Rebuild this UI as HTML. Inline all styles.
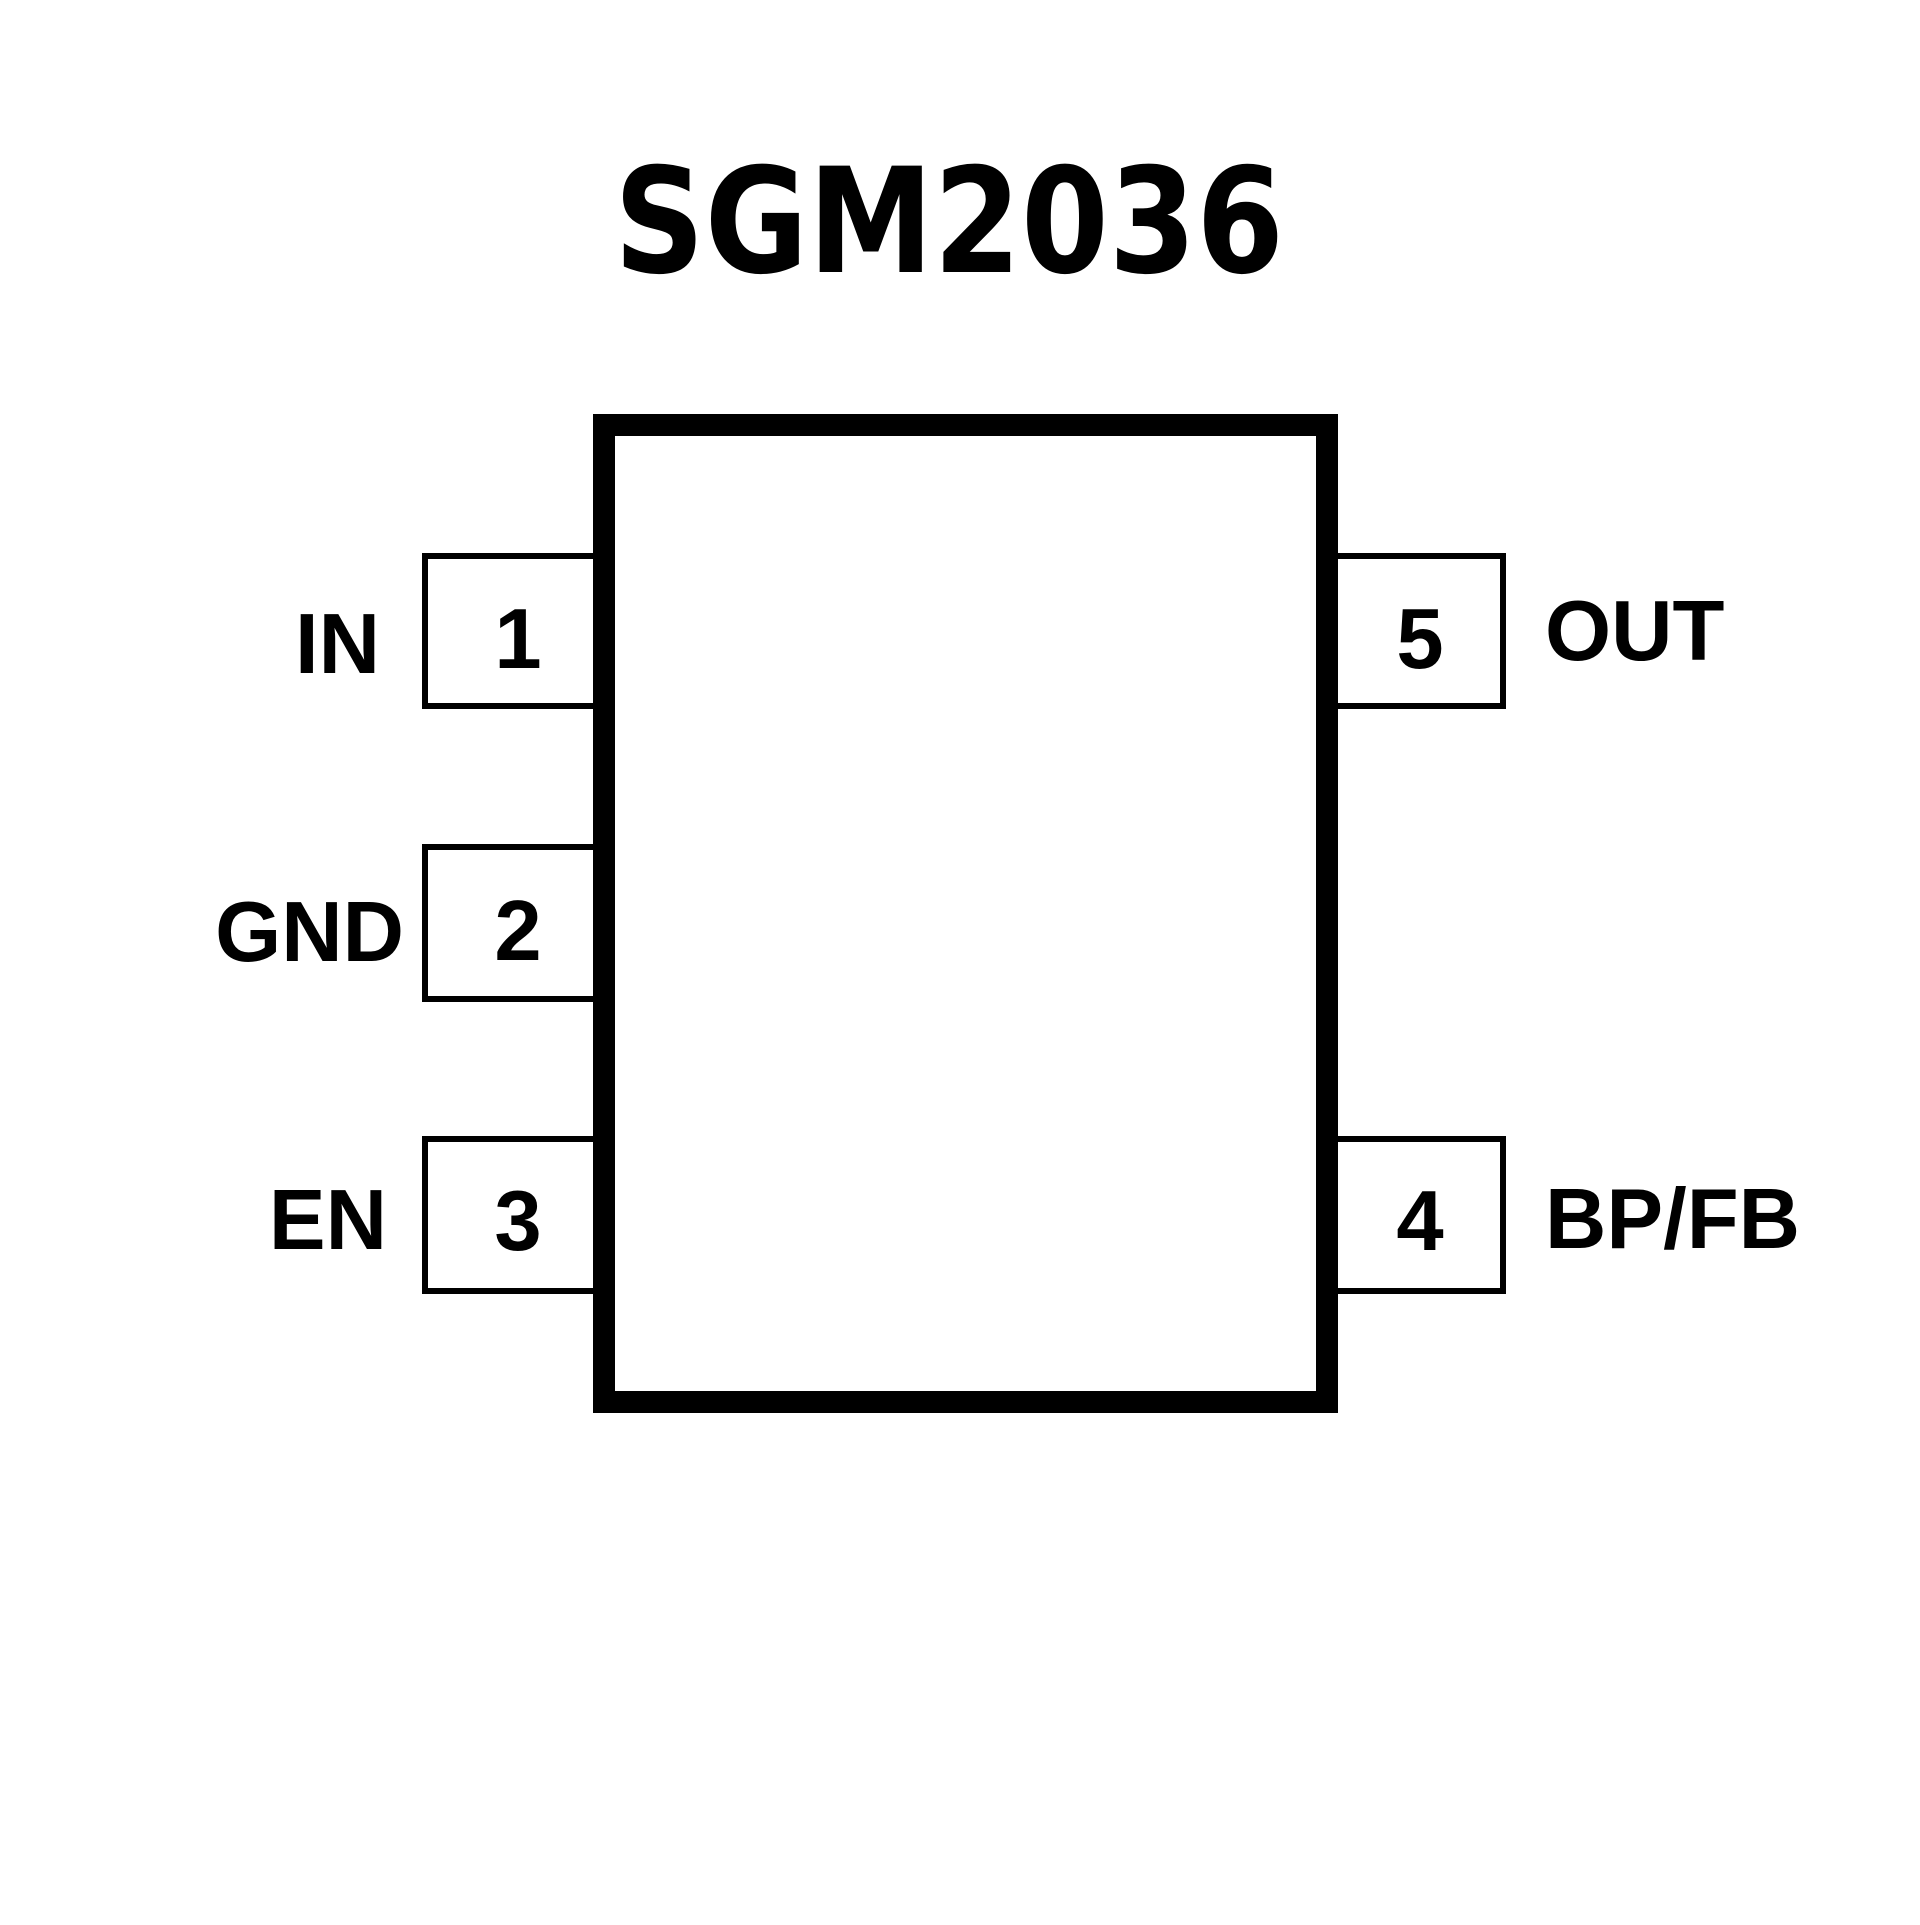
<!DOCTYPE html>
<html><head><style>html,body{margin:0;padding:0;background:#fff}
.l{font-family:"Liberation Sans",Arial,sans-serif;font-weight:bold;font-size:85px}
.t{font-family:"DejaVu Sans",sans-serif;font-weight:bold;font-size:146px}
</style></head>
<body>
<svg width="1920" height="1920" viewBox="0 0 1920 1920" xmlns="http://www.w3.org/2000/svg">
<rect width="1920" height="1920" fill="#fff"/>
<text class="t" x="614" y="272" textLength="670" lengthAdjust="spacingAndGlyphs">SGM2036</text>
<g fill="none" stroke="#000" stroke-width="6">
<rect x="425" y="556" width="172" height="150"/>
<rect x="425" y="847" width="172" height="152"/>
<rect x="425" y="1139" width="172" height="152"/>
<rect x="1330" y="556" width="173" height="150"/>
<rect x="1330" y="1139" width="173" height="152"/>
</g>
<rect x="604" y="425" width="723" height="977" fill="#fff" stroke="#000" stroke-width="22"/>
<text class="l" x="380" y="673" text-anchor="end">IN</text>
<text class="l" x="404" y="961" text-anchor="end">GND</text>
<text class="l" x="387" y="1249" text-anchor="end">EN</text>
<text class="l" x="1545" y="660">OUT</text>
<text class="l" x="1545" y="1248">BP/FB</text>
<text class="l" x="518" y="668" text-anchor="middle">1</text>
<text class="l" x="518" y="960" text-anchor="middle">2</text>
<text class="l" x="518" y="1250" text-anchor="middle">3</text>
<text class="l" x="1420" y="668" text-anchor="middle">5</text>
<text class="l" x="1420" y="1250" text-anchor="middle">4</text>
</svg>
</body></html>
